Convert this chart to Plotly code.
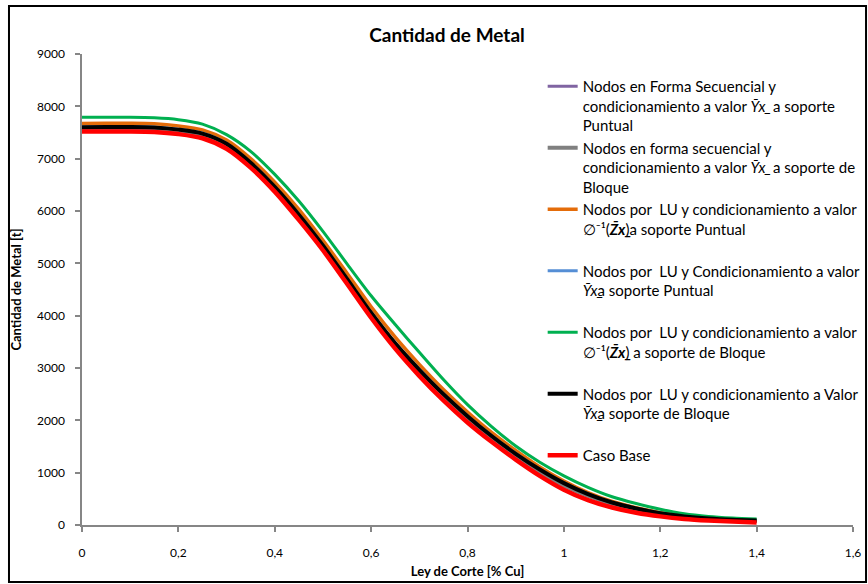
import plotly.graph_objects as go

# ---- data ----
ley = [0.0, 0.05, 0.1, 0.15, 0.2, 0.25, 0.3, 0.35, 0.4, 0.45, 0.5, 0.55, 0.6, 0.65, 0.7,
       0.75, 0.8, 0.85, 0.9, 0.95, 1.0, 1.05, 1.1, 1.15, 1.2, 1.25, 1.3, 1.35, 1.4]

seq_puntual = [7580, 7585, 7585, 7575, 7535, 7460, 7265, 6900, 6440, 5905, 5310, 4675, 4030, 3450, 2940,
               2470, 2050, 1670, 1335, 1030, 775, 570, 410, 300, 212, 155, 118, 95, 80]
seq_bloque = [7570, 7575, 7575, 7565, 7525, 7450, 7255, 6890, 6425, 5890, 5295, 4655, 4010, 3430, 2920,
              2450, 2030, 1650, 1315, 1010, 755, 555, 400, 290, 205, 150, 112, 90, 76]
lu_zx_puntual = [7670, 7675, 7675, 7665, 7625, 7550, 7355, 7000, 6550, 6030, 5440, 4810, 4170, 3590, 3070,
                 2590, 2160, 1770, 1425, 1110, 840, 620, 450, 330, 235, 170, 130, 105, 88]
lu_yx_puntual = [7605, 7610, 7610, 7600, 7560, 7485, 7290, 6925, 6465, 5935, 5345, 4705, 4060, 3480, 2975,
                 2505, 2085, 1705, 1365, 1065, 805, 595, 432, 317, 226, 166, 126, 101, 86]
lu_zx_bloque = [7790, 7790, 7790, 7780, 7745, 7660, 7460, 7140, 6700, 6190, 5610, 4990, 4380, 3830, 3300,
                2780, 2300, 1880, 1510, 1200, 940, 720, 540, 410, 300, 215, 165, 135, 115]
lu_yx_bloque = [7600, 7605, 7605, 7595, 7555, 7480, 7285, 6920, 6460, 5930, 5340, 4700, 4055, 3470, 2965,
                2500, 2080, 1700, 1360, 1060, 800, 590, 430, 315, 225, 165, 125, 100, 85]
caso_base = [7520, 7520, 7520, 7510, 7470, 7390, 7190, 6830, 6370, 5830, 5250, 4610, 3960, 3370, 2850,
             2380, 1960, 1590, 1250, 940, 675, 475, 335, 235, 165, 115, 85, 65, 50]

x_ticks = [0, 0.2, 0.4, 0.6, 0.8, 1.0, 1.2, 1.4, 1.6]
x_tick_labels = ["0", "0,2", "0,4", "0,6", "0,8", "1", "1,2", "1,4", "1,6"]
y_ticks = [0, 1000, 2000, 3000, 4000, 5000, 6000, 7000, 8000, 9000]
y_tick_labels = [str(v) for v in y_ticks]

YX = "<i>\u0232x\u0332</i>"
ZX = "\u2205\u207b\u00b9(<b><i>Z\u0304x\u0332</i></b>)"

names = [
    "Nodos en Forma Secuencial y<br>condicionamiento a valor " + YX + "  a soporte<br>Puntual",
    "Nodos en forma secuencial y<br>condicionamiento a valor " + YX + "  a soporte de<br>Bloque",
    "Nodos por  LU y condicionamiento a valor<br>" + ZX + "a soporte Puntual<br>\u00a0",
    "Nodos por  LU y Condicionamiento a valor<br>" + YX + "a soporte Puntual<br>\u00a0",
    "Nodos por  LU y condicionamiento a valor<br>" + ZX + " a soporte de Bloque<br>\u00a0",
    "Nodos por  LU y condicionamiento a Valor<br>" + YX + "a soporte de Bloque<br>\u00a0",
    "Caso Base",
]
series = [seq_puntual, seq_bloque, lu_zx_puntual, lu_yx_puntual, lu_zx_bloque, lu_yx_bloque, caso_base]
colors = ["#8064A2", "#808080", "#E46C0A", "#558ED5", "#00B050", "#000000", "#FF0000"]
widths = [3, 4, 3.5, 3, 3, 4, 4.5]

fig = go.Figure()
for name, ys, c, w in zip(names, series, colors, widths):
    fig.add_trace(go.Scatter(x=ley, y=ys, name=name, mode="lines",
                             line=dict(color=c, width=w, shape="spline", smoothing=0.8)))

fig.update_layout(
    width=868, height=584,
    margin=dict(l=82, r=15, t=54, b=59, autoexpand=False),
    paper_bgcolor="white", plot_bgcolor="white",
    font=dict(family="Lato, 'Open Sans', sans-serif", color="#000000", size=12),
    title=dict(text="<b>Cantidad de Metal</b>", x=0.515, xanchor="center", y=0.94, yanchor="middle",
               font=dict(size=19, color="#000000")),
    showlegend=True,
    legend=dict(x=0.5975, y=0.966, xanchor="left", yanchor="top", valign="top",
                bgcolor="rgba(0,0,0,0)", borderwidth=0, font=dict(size=15, color="#000000"),
                traceorder="normal"),
    xaxis=dict(range=[0, 1.6], tickvals=x_ticks, ticktext=x_tick_labels,
               showgrid=False, zeroline=False, showline=True, linecolor="#868686", linewidth=1.5,
               ticks="outside", ticklen=5, tickcolor="#868686", tickwidth=1.5,
               tickfont=dict(size=12), ticklabelstandoff=11,
               title=dict(text="<b>Ley de Corte [% Cu]</b>", font=dict(size=13), standoff=8)),
    yaxis=dict(range=[0, 9000], tickvals=y_ticks, ticktext=y_tick_labels,
               showgrid=False, zeroline=False, showline=True, linecolor="#868686", linewidth=1.5,
               ticks="outside", ticklen=5, tickcolor="#868686", tickwidth=1.5,
               tickfont=dict(size=12), ticklabelstandoff=8,
               title=dict(text="<b>Cantidad de Metal [t]</b>", font=dict(size=13), standoff=12)),
    shapes=[dict(type="rect", xref="paper", yref="paper",
                 x0=-0.0947, x1=1.0169, y0=-0.121, y1=1.1019,
                 line=dict(color="#000000", width=2), fillcolor="rgba(0,0,0,0)", layer="below")],
)

fig.write_html("out.html")
